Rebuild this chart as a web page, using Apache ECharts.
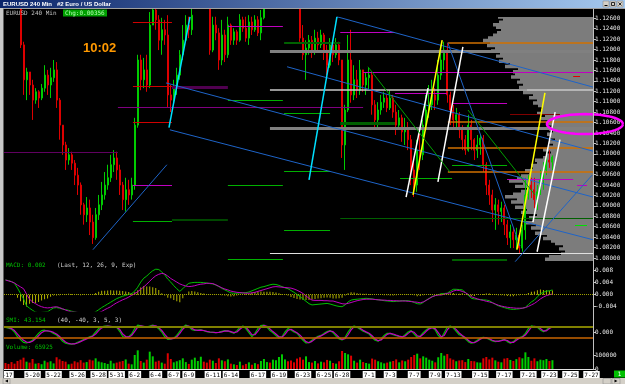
<!DOCTYPE html>
<html>
<head>
<meta charset="utf-8">
<script src="https://cdn.jsdelivr.net/npm/echarts@6.0.0/dist/echarts.min.js"></script>
<style>
html,body{margin:0;padding:0;background:#000;overflow:hidden;}
#chart{width:625px;height:384px;}
</style>
</head>
<body>
<div id="chart"></div>
<script>
// ---------------- DATA ----------------
const firstOpen = 1.1410;
const closes = [
1.1395,1.1370,1.1340,1.1318,1.1290, 1.1209,1.1142,1.1157,1.1132,1.1103,
1.1119,1.1107,1.1126,1.1151,1.1132, 1.1146,1.1161,1.1103,1.1055,1.1017,
1.0988,1.0998,1.0982,1.0959,1.0940, 1.0902,1.0883,1.0896,1.0869,1.0839,
1.0883,1.0902,1.0921,1.0940,1.0954, 1.0979,1.0992,1.0969,1.0940,1.0912,
1.0931,1.0921,1.0940,1.1055,1.1180, 1.1142,1.1161,1.1132,1.1247,1.1276,
1.1257,1.1218,1.1238,1.1228,1.1113, 1.1103,1.1126,1.1151,1.1190,1.1218,
1.1247,1.1238,1.1266,1.1300,1.1330, 1.1350,1.1320,1.1290,1.1199,1.1247,
1.1232,1.1180,1.1228,1.1190,1.1247, 1.1218,1.1234,1.1218,1.1257,1.1241,
1.1222,1.1253,1.1238,1.1257,1.1232, 1.1261,1.1300,1.1330,1.1290,1.1310,
1.1350,1.1380,1.1400,1.1420,1.1390, 1.1360,1.1330,1.1300,1.1222,1.1190,
1.1203,1.1218,1.1195,1.1222,1.1209, 1.1228,1.1199,1.1170,1.1209,1.1190,
1.1209,1.1180,1.1017,1.1084,1.1180, 1.1113,1.1142,1.1122,1.1161,1.1132,
1.1146,1.1151,1.1094,1.1065,1.1084, 1.1099,1.1107,1.1088,1.1107,1.1080,
1.1055,1.1069,1.1042,1.1050,1.1027, 1.0969,1.0940,1.1007,1.0998,1.1055,
1.1084,1.1094,1.1113,1.1103,1.1151, 1.1180,1.1199,1.1113,1.1084,1.1065,
1.1075,1.1046,1.1027,1.1007,1.1055, 1.1027,1.1007,1.1017,1.1030,1.0979,
1.0940,1.0921,1.0892,1.0902,1.0889, 1.0896,1.0864,1.0839,1.0850,1.0835,
1.0844,1.0819,1.0854,1.0921,1.0940, 1.0931,1.0912,1.0927,1.0950,1.0969,
1.0988,1.0984,1.09938];
const highs = [
1.1420,1.1400,1.1375,1.1350,1.1325, 1.1295,1.1215,1.1165,1.1157,1.1142,
1.1126,1.1122,1.1134,1.1170,1.1161, 1.1165,1.1180,1.1176,1.1107,1.1055,
1.1023,1.1011,1.1004,1.0988,1.0973, 1.0945,1.0906,1.0917,1.0912,1.0883,
1.0896,1.0921,1.0946,1.0965,1.0979, 1.0998,1.1007,1.1004,1.0979,1.0946,
1.0954,1.0950,1.0954,1.1069,1.1190, 1.1190,1.1184,1.1190,1.1272,1.1286,
1.1286,1.1266,1.1261,1.1257,1.1266, 1.1132,1.1142,1.1165,1.1199,1.1247,
1.1266,1.1263,1.1286,1.1325,1.1350, 1.1380,1.1365,1.1330,1.1295,1.1263,
1.1263,1.1241,1.1257,1.1238,1.1263, 1.1250,1.1241,1.1238,1.1268,1.1263,
1.1263,1.1266,1.1263,1.1266,1.1264, 1.1276,1.1320,1.1345,1.1340,1.1330,
1.1365,1.1395,1.1420,1.1436,1.1430, 1.1400,1.1370,1.1340,1.1305,1.1247,
1.1218,1.1228,1.1226,1.1238,1.1234, 1.1238,1.1232,1.1209,1.1222,1.1218,
1.1222,1.1215,1.1180,1.1094,1.1228, 1.1238,1.1170,1.1161,1.1180,1.1161,
1.1157,1.1165,1.1155,1.1103,1.1099, 1.1113,1.1119,1.1113,1.1122,1.1113,
1.1094,1.1084,1.1075,1.1069,1.1061, 1.1036,1.0988,1.1027,1.1046,1.1065,
1.1113,1.1132,1.1142,1.1126,1.1180, 1.1209,1.1215,1.1213,1.1119,1.1094,
1.1088,1.1080,1.1055,1.1036,1.1075, 1.1065,1.1030,1.1036,1.1036,1.1036,
1.0984,1.0950,1.0931,1.0915,1.0912, 1.0908,1.0902,1.0873,1.0864,1.0858,
1.0858,1.0848,1.0864,1.0954,1.0959, 1.0954,1.0954,1.0940,1.0969,1.0984,
1.1004,1.1007,1.0997];
const lows = [
1.1380,1.1360,1.1330,1.1305,1.1280, 1.1203,1.1113,1.1103,1.1113,1.1065,
1.1096,1.1088,1.1103,1.1119,1.1113, 1.1107,1.1138,1.1088,1.1027,1.0998,
1.0969,1.0979,1.0969,1.0940,1.0921, 1.0883,1.0864,1.0869,1.0844,1.0827,
1.0835,1.0873,1.0892,1.0912,1.0931, 1.0946,1.0965,1.0950,1.0921,1.0892,
1.0889,1.0902,1.0912,1.0931,1.1050, 1.1122,1.1126,1.1119,1.1126,1.1247,
1.1238,1.1199,1.1190,1.1209,1.1088, 1.1080,1.1094,1.1113,1.1142,1.1180,
1.1215,1.1222,1.1228,1.1264,1.1295, 1.1320,1.1305,1.1275,1.1190,1.1195,
1.1218,1.1161,1.1170,1.1176,1.1184, 1.1209,1.1209,1.1209,1.1215,1.1234,
1.1215,1.1209,1.1228,1.1234,1.1226, 1.1218,1.1258,1.1295,1.1275,1.1285,
1.1305,1.1340,1.1370,1.1390,1.1380, 1.1345,1.1315,1.1280,1.1215,1.1180,
1.1142,1.1190,1.1184,1.1190,1.1199, 1.1203,1.1180,1.1151,1.1165,1.1176,
1.1184,1.1170,1.0992,1.0969,1.1080, 1.1098,1.1103,1.1107,1.1113,1.1119,
1.1113,1.1122,1.1075,1.1046,1.1050, 1.1075,1.1088,1.1080,1.1084,1.1069,
1.1036,1.1046,1.1023,1.1017,1.1007, 1.0940,1.0917,1.0927,1.0969,1.0988,
1.1046,1.1069,1.1084,1.1084,1.1094, 1.1142,1.1161,1.1098,1.1055,1.1046,
1.1050,1.1030,1.1007,1.0998,1.1004, 1.1007,1.0988,1.0992,1.0998,1.0965,
1.0921,1.0902,1.0869,1.0854,1.0864, 1.0869,1.0844,1.0825,1.0819,1.0819,
1.0816,1.0808,1.0812,1.0835,1.0912, 1.0915,1.0896,1.0892,1.0921,1.0931,
1.0959,1.0973,1.0969];
const volumes = [
45000,38000,52000,40000,60000, 70000,85000,55000,48000,75000,
40000,44000,36000,62000,50000, 58000,42000,88000,72000,60000,
55000,35000,40000,58000,50000, 66000,48000,52000,70000,64000,
80000,56000,50000,45000,38000, 62000,42000,48000,55000,60000,
72000,40000,35000,105000,140000, 60000,48000,70000,130000,95000,
55000,62000,48000,40000,118000, 75000,50000,58000,66000,80000,
52000,38000,70000,85000,60000, 92000,55000,48000,70000,62000,
45000,80000,65000,58000,72000, 40000,35000,30000,55000,28000,
38000,50000,32000,44000,36000, 60000,75000,52000,48000,70000,
66000,90000,110000,72000,58000, 64000,50000,78000,88000,70000,
95000,52000,48000,60000,42000, 55000,50000,68000,62000,45000,
40000,58000,135000,120000,110000, 100000,62000,48000,70000,52000,
45000,40000,78000,70000,58000, 50000,42000,48000,55000,60000,
72000,50000,64000,58000,70000, 90000,105000,115000,80000,95000,
85000,70000,62000,50000,88000, 120000,100000,112000,80000,70000,
58000,64000,66000,52000,75000, 60000,58000,50000,48000,80000,
90000,72000,85000,65000,55000, 50000,78000,82000,68000,60000,
74000,88000,80000,125000,90000, 62000,80000,58000,70000,66000,
75000,60000,65925];
// MACD and signal in units of 0.0001
const macdE4 = [
49,47,44,38,22, 4,-14,-37,-45,-52, -58,-60,-59,-58,-57, -50,-44,-43,-45,-48,
-50,-52,-55,-57,-60, -62,-62,-62,-63,-62, -57,-50,-43,-37,-31, -25,-19,-13,-9,-5,
-2,1,4,12,25, 42,55,62,72,80, 85,84,76,66,52, 42,30,20,11,20,
30,38,40,41,41, 41,40,39,37,36, 32,27,21,16,11, 6,5,5,6,6,
7,9,13,17,21, 25,27,30,33,35, 34,31,27,23,20, 14,8,1,-6,-14,
-22,-30,-34,-33,-32, -31,-30,-29,-31,-34, -37,-39,-40,-34,-24, -18,-16,-15,-14,-13,
-12,-13,-14,-16,-17, -18,-20,-21,-22,-23, -22,-21,-20,-20,-20, -22,-26,-30,-31,-26,
-18,-12,-6,-3,0, 3,4,5,12,18, 18,17,16,8,-2, -12,-14,-15,-16,-17,
-18,-20,-26,-32,-37, -40,-43,-46,-48,-49, -48,-47,-45,-42,-33, -24,-18,-7,3,8,
12,13,16];
const signalE4 = [
49,46,43,39,32, 26,20,2,-15,-24, -30,-36,-40,-43,-44, -43,-41,-40,-43,-47,
-51,-55,-57,-58,-59, -60,-61,-62,-63,-64, -63,-60,-56,-50,-45, -40,-33,-27,-22,-17,
-13,-8,-2,4,10, 18,26,35,45,55, 63,68,71,69,62, 54,48,42,36,32,
29,27,28,30,33, 35,36,38,38,37, 33,28,23,19,16, 12,10,8,7,6,
5,5,6,8,11, 14,17,20,23,26, 27,26,25,24,23, 22,19,15,10,4,
-4,-12,-18,-19,-19, -19,-20,-20,-21,-21, -24,-27,-30,-31,-29, -26,-23,-20,-18,-16,
-15,-15,-15,-16,-17, -18,-18,-19,-19,-20, -20,-21,-21,-21,-22, -23,-24,-25,-27,-24,
-19,-13,-7,-3,-1, -1,2,4,7,12, 15,14,11,7,1, -7,-10,-14,-17,-19,
-22,-24,-27,-31,-35, -38,-40,-42,-43,-44, -45,-45,-45,-43,-39, -34,-29,-22,-14,-8,
-3,0,2];
const smiLine = [
39,33,26,5,-30, -50,-70,-75,-68,-55, -30,-5,15,18,12, 7,-5,-17,-40,-62,
-77,-82,-84,-80,-70, -60,-50,-40,-30,-22, 5,30,42,48,48, 45,42,39,10,-28,
-33,-30,-10,30,55, 50,42,40,48,56, 45,28,5,-30,-48, -45,-40,-20,10,40,
55,45,22,16,18, 20,14,7,4,2, 0,3,10,15,12, 3,-4,15,38,49,
30,0,-28,-5,30, 52,55,40,15,0, -20,-38,-30,5,30, 20,5,-4,-30,-55,
-75,-72,-55,-38,-27, -20,-5,8,15,0, -25,-45,-53,-35,5, 35,49,40,25,10,
2,-10,-35,-55,-62, -45,-20,-4,-5,-15, -22,-28,-33,-15,5, 15,-10,-33,-25,0,
20,35,39,20,-20, -41,0,40,49,35, 10,-15,-24,-45,-65, -77,-70,-55,-40,-33,
-38,-50,-60,-65,-62, -55,-48,-65,-77,-65, -45,-35,-29,-5,30, 49,45,39,20,7,
20,39,43.154];
const smiSignal = [
40,37,30,15,-10, -35,-55,-68,-70,-62, -45,-22,0,12,14, 10,2,-10,-28,-50,
-68,-78,-82,-81,-75, -65,-55,-45,-35,-26, -10,15,35,44,47, 46,43,40,25,-10,
-28,-31,-20,10,40, 50,46,41,44,50, 50,37,17,-12,-38, -45,-42,-30,-5,25,
47,48,33,20,17, 18,16,10,5,3, 1,2,6,12,13, 8,0,5,25,43,
40,15,-15,-15,12, 40,52,47,28,8, -10,-29,-33,-12,17, 25,12,0,-18,-42,
-65,-73,-63,-46,-32, -23,-12,2,12,8, -12,-35,-49,-44,-15, 20,42,44,32,17,
6,-4,-22,-45,-58, -53,-32,-12,-5,-10, -18,-25,-30,-24,-5, 10,3,-22,-29,-12,
10,28,37,30,0, -30,-20,20,45,42, 22,-2,-20,-35,-55, -71,-73,-62,-48,-37,
-36,-44,-55,-62,-63, -58,-52,-57,-71,-71, -55,-40,-32,-17,12, 40,47,42,30,13,
13,30,41];
// volume-at-price profile, bins of 0.0005 starting at 1.0795
const profileStart = 1.0795, profileStep = 0.0005;
const profileVol = [
48,44,32,28,34,30,38,42,50,46, 58,52,62,57,68,60,64,56,72,66,
78,70,82,76,88,80,72,66,78,70, 84,76,72,64,68,60,62,56,58,50,
46,42,50,44,40,44,38,42,46,40, 44,40,47,43,52,48,56,52,50,55,
60,56,64,60,70,66,74,70,76,73, 82,78,80,75,88,83,94,90,97,93,
102,98,106,103,110,105,100,96,92,97, 100,94,90,95];
const priceTicks = [1.080,1.082,1.084,1.086,1.088,1.090,1.092,1.094,1.096,1.098,1.100,1.102,1.104,1.106,1.108,1.110,1.112,1.114,1.116,1.118,1.120,1.122,1.124,1.126];
const macdTicks = [-0.004,0,0.004,0.008];
const smiTicks = [0];
const volTicks = [0,100000];
const xTickIdx = [0,9,16,24,31,37,43,50,56,61,69,75,84,91,99,106,112,121,128,136,143,149,158,166,174,181,188,195];
const xTickText = ['5-17','5-20','5-22','5-26','5-28','5-31','6-2','6-4','6-7','6-9','6-11','6-14','6-17','6-19','6-23','6-25','6-28','7-1','7-3','7-7','7-9','7-13','7-15','7-17','7-21','7-23','7-25','7-27'];
// horizontal drawn levels: [fromBar, toBar, price, color, width]
const hLevels = [
[42.4,55.4,1.1252,'#d00000',1],[74.0,92.3,1.1245,'#c000c0',1],[92.7,111.4,1.1213,'#006000',2],
[88.0,195.5,1.1196,'#808080',3],[42.4,55.4,1.1130,'#d00000',1],[55.4,74.0,1.1127,'#500050',3],
[88.0,195.5,1.1122,'#c8c8c8',1.5],[74.0,92.3,1.1103,'#00b000',1],[37.4,119.0,1.1089,'#800080',1],
[92.7,108.0,1.1078,'#00b000',1],[42.4,55.4,1.1061,'#d00000',1],[88.0,195.5,1.1049,'#808080',3],
[-0.5,37.4,1.1003,'#600060',1],[42.4,55.4,1.0940,'#c000c0',1],[74.0,92.3,1.0940,'#00b000',1],
[92.7,108.0,1.0967,'#00b000',1],[42.4,55.4,1.0871,'#00b000',1],[55.4,74.0,1.0874,'#006000',1.5],
[92.7,108.0,1.0853,'#00b000',1],[88.0,195.5,1.0809,'#e0e0e0',1],[74.0,92.3,1.0797,'#00b000',1],
[111.4,129.6,1.1233,'#c000c0',1],[147.2,195.5,1.1214,'#d07000',1.5],[119.0,195.5,1.1157,'#c000c0',1],
[129.6,146.9,1.1117,'#c000c0',1],[148.6,166.9,1.1097,'#c000c0',1],[111.4,129.6,1.1059,'#006000',3],
[147.2,195.5,1.1061,'#d07000',1.5],[147.2,195.5,1.1012,'#d07000',1.5],[148.6,166.9,1.0978,'#00b000',1],
[147.2,195.5,1.0965,'#d07000',1.5],[131.3,148.6,1.0953,'#00b000',1],[166.9,188.9,1.0951,'#c000c0',1],
[111.4,195.5,1.0876,'#006000',1],[148.6,166.9,1.0797,'#006000',2],[167.9,184.5,1.1075,'#800000',1],
[188.9,191.2,1.1149,'#e00000',1],[190.2,193.5,1.0940,'#c000c0',1],[189.5,193.5,1.0862,'#00e000',1]];
// trend lines: [bar1, price1, bar2, price2, color, width]
const trendLines = [
[110.3,1.1263,195.5,1.1128,'#1e64c8',1],[53.4,1.1136,195.5,1.0917,'#1e64c8',1],
[54.7,1.1046,195.5,1.0835,'#1e64c8',1],[93.7,1.1167,195.5,1.1005,'#1e64c8',1],
[147.2,1.1213,171.2,1.0823,'#1e64c8',1],[169.6,1.0793,195.2,1.0959,'#1e64c8',1],
[29.1,1.0816,53.7,1.0979,'#1e64c8',1],[54.4,1.1050,61.4,1.1263,'#00e0ff',1.5],
[101.0,1.0950,110.3,1.1263,'#00e0ff',1.5],[135.6,1.0921,145.3,1.1218,'#ffff00',1.5],
[170.2,1.0816,179.5,1.1117,'#ffff00',1.5],[133.3,1.0917,140.6,1.1126,'#ffffff',1.5],
[143.9,1.0946,152.2,1.1205,'#ffffff',1.5],[175.5,1.0869,182.9,1.1080,'#ffffff',1.5],
[176.9,1.0812,184.5,1.1027,'#ffffff',1.5],[120.6,1.1167,147.9,1.0965,'#00a000',1],
[153.9,1.1084,176.2,1.0921,'#00a000',1]];
const fibLabels = [
[1.1214,'(100%)','#ff8000'],[1.1196,'(61.8%)','#e0e0e0'],[1.1122,'(50%)','#e0e0e0'],
[1.1061,'(61.8%)','#ff8000'],[1.1049,'(38.2%)','#e0e0e0'],[1.1012,'(50%)','#ff8000'],
[1.0965,'(38.2%)','#ff8000'],[1.0809,'(0%)','#e0e0e0']];
const ovalCenter = [192.8, 1.1057];

// ---------------- BUILD ----------------
const N = 196;
const cats = Array.from({length: N}, (_, i) => String(i));
const opens = closes.map((c, i) => i === 0 ? firstOpen : closes[i - 1]);
const candles = closes.map((c, i) => [opens[i], c, lows[i], highs[i]]);
const UP = '#00cc00', DN = '#dd0000';
const volData = volumes.map((v, i) => ({value: v, itemStyle: {color: closes[i] >= opens[i] ? UP : DN}}));
const macd = macdE4.map(v => v / 10000);
const sig = signalE4.map(v => v / 10000);
const hist = macd.map((v, i) => +(v - sig[i]).toFixed(5));
const profileData = profileVol.map((v, k) => [profileStart + k * profileStep, profileStart + (k + 1) * profileStep, v]);
const tickMap = {};
xTickIdx.forEach((ix, k) => { tickMap[ix] = xTickText[k]; });
const MONO = 'DejaVu Sans Mono';
const PMIN = 1.07904, PMAX = 1.12625;
const L = 4, W = 589;

const segData = hLevels.map(h => ({coords: [[h[0], h[2]], [h[1], h[2]]], lineStyle: {color: h[3], width: h[4]}}))
  .concat(trendLines.map(t => ({coords: [[t[0], t[1]], [t[2], t[3]]], lineStyle: {color: t[4], width: t[5]}})));

function hiddenCat(g) {
  return {type: 'category', gridIndex: g, data: cats, boundaryGap: true, show: false};
}
function rightAxis(g, min, max, ticks, fmt) {
  return {
    type: 'value', gridIndex: g, position: 'right', min: min, max: max,
    axisLine: {show: true, lineStyle: {color: '#c0c0c0', width: 1}},
    axisTick: {show: true, customValues: ticks, length: 3, lineStyle: {color: '#c0c0c0'}},
    axisLabel: {show: true, customValues: ticks, formatter: fmt, color: '#e8e8e8', fontSize: 6, fontFamily: MONO, margin: 2},
    splitLine: {show: false}
  };
}

const chart = echarts.init(document.getElementById('chart'), null, {renderer: 'canvas'});
const option = {
  backgroundColor: '#000',
  animation: false,
  grid: [
    {left: L, top: 17, width: W, height: 246, outerBoundsMode: 'none'},
    {left: L, top: 265, width: W, height: 46, outerBoundsMode: 'none'},
    {left: L, top: 313, width: W, height: 34, outerBoundsMode: 'none'},
    {left: L, top: 349, width: W, height: 20, outerBoundsMode: 'none'},
    {left: L, top: 17, width: W, height: 246, outerBoundsMode: 'none'},
    {left: L, top: 17, width: W, height: 246, outerBoundsMode: 'none'}
  ],
  xAxis: [
    hiddenCat(0), hiddenCat(1), hiddenCat(2),
    {type: 'category', gridIndex: 3, data: cats, boundaryGap: true,
     axisLine: {show: true, lineStyle: {color: '#e0e0e0'}}, axisTick: {show: false},
     axisLabel: {show: true, interval: (i) => tickMap[i] !== undefined, formatter: (v) => tickMap[Number(v)] || '',
       color: '#000', backgroundColor: '#fff', padding: [1, 1, 0, 1], fontSize: 6, fontFamily: MONO, lineHeight: 6, margin: 2, hideOverlap: false}},
    {type: 'value', gridIndex: 4, min: -0.5, max: N - 0.5, show: false},
    {type: 'value', gridIndex: 5, min: 0, max: W, inverse: true, show: false}
  ],
  yAxis: [
    rightAxis(0, PMIN, PMAX, priceTicks, v => v.toFixed(5)),
    rightAxis(1, -0.00543, 0.0099, macdTicks, v => v.toFixed(3)),
    rightAxis(2, -104, 143, smiTicks, v => v.toFixed(3)),
    rightAxis(3, 0, 150000, volTicks, v => String(v)),
    {type: 'value', gridIndex: 4, min: PMIN, max: PMAX, show: false},
    {type: 'value', gridIndex: 5, min: PMIN, max: PMAX, show: false}
  ],
  series: [
    {type: 'custom', name: 'profile', xAxisIndex: 5, yAxisIndex: 5, data: profileData, clip: true, z: 1, silent: true,
     renderItem: function (params, api) {
       const a = api.coord([api.value(2), api.value(1)]);
       const b = api.coord([0, api.value(0)]);
       return {type: 'rect', shape: {x: a[0], y: a[1] - 0.4, width: b[0] - a[0], height: b[1] - a[1] + 0.8}, style: {fill: '#7c7c7c'}};
     }},
    {type: 'candlestick', name: 'EURUSD', xAxisIndex: 0, yAxisIndex: 0, data: candles, barWidth: 1.5, clip: true, z: 2,
     itemStyle: {color: UP, color0: DN, borderColor: UP, borderColor0: DN, borderWidth: 1}},
    {type: 'lines', coordinateSystem: 'cartesian2d', xAxisIndex: 4, yAxisIndex: 4, polyline: false, data: segData,
     lineStyle: {opacity: 1, width: 1}, z: 4, silent: true, clip: true},
    {type: 'scatter', xAxisIndex: 4, yAxisIndex: 4, symbolSize: 1, itemStyle: {opacity: 0}, z: 6, silent: true, clip: false,
     data: fibLabels.map(f => ({value: [N - 1.5, f[0]], label: {formatter: f[1], color: f[2]}})),
     label: {show: true, position: 'left', distance: 0, backgroundColor: '#000', borderColor: '#5a5a5a', borderWidth: 1,
       padding: [0, 1, 0, 1], fontSize: 6, fontFamily: MONO, lineHeight: 6}},
    {type: 'scatter', xAxisIndex: 4, yAxisIndex: 4, symbolSize: 1, itemStyle: {opacity: 0}, z: 7, silent: true, clip: false,
     data: [[N - 0.5, closes[closes.length - 1]]],
     label: {show: true, position: 'right', distance: 1, formatter: (p) => p.value[1].toFixed(5), color: '#000',
       backgroundColor: '#fff', padding: [1, 2, 0, 2], fontSize: 6, fontFamily: MONO, lineHeight: 6}},
    {type: 'custom', name: 'oval', xAxisIndex: 4, yAxisIndex: 4, data: [ovalCenter], clip: false, z: 8, silent: true,
     renderItem: function (params, api) {
       const c = api.coord([api.value(0), api.value(1)]);
       const pts = [];
       for (let k = 0; k <= 48; k++) {
         const t = k / 48 * Math.PI * 2;
         pts.push([c[0] + 38 * Math.cos(t), c[1] + 10 * Math.sin(t)]);
       }
       return {type: 'polyline', shape: {points: pts}, style: {stroke: '#ff00ff', lineWidth: 2.5, fill: null}};
     }},
    {type: 'bar', name: 'hist', xAxisIndex: 1, yAxisIndex: 1, data: hist, barWidth: 1, itemStyle: {color: '#b4b400'}, z: 2,
     markLine: {silent: true, symbol: 'none', label: {show: false}, data: [{yAxis: 0}], lineStyle: {color: '#a0a000', type: 'dotted', width: 1}}},
    {type: 'line', name: 'MACD', xAxisIndex: 1, yAxisIndex: 1, data: macd, showSymbol: false, lineStyle: {color: '#00c000', width: 1}, z: 3},
    {type: 'line', name: 'Signal', xAxisIndex: 1, yAxisIndex: 1, data: sig, showSymbol: false, lineStyle: {color: '#c000c0', width: 1}, z: 3},
    {type: 'line', name: 'SMI', xAxisIndex: 2, yAxisIndex: 2, data: smiLine, showSymbol: false, lineStyle: {color: '#00c000', width: 1.2}, z: 3,
     markLine: {silent: true, symbol: 'none', label: {show: false},
       data: [{yAxis: 40, lineStyle: {color: '#808000', width: 2, type: 'solid'}}, {yAxis: -40, lineStyle: {color: '#c86400', width: 1.5, type: 'solid'}}]}},
    {type: 'line', name: 'SMI signal', xAxisIndex: 2, yAxisIndex: 2, data: smiSignal, showSymbol: false, lineStyle: {color: '#c000c0', width: 1.2}, z: 4},
    {type: 'bar', name: 'Volume', xAxisIndex: 3, yAxisIndex: 3, data: volData, barWidth: 2, z: 2}
  ],
  graphic: [
    {type: 'rect', z: 100, shape: {x: 0, y: 0, width: 625, height: 8},
     style: {fill: new echarts.graphic.LinearGradient(0, 0, 1, 0, [{offset: 0, color: '#0a246a'}, {offset: 1, color: '#a6caf0'}])}},
    {type: 'text', z: 101, x: 3, y: 4, style: {text: 'EURUSD 240 Min   #2 Euro / US Dollar', fill: '#fff', font: 'bold 6px "Liberation Sans"', verticalAlign: 'middle'}},
    {type: 'rect', z: 101, shape: {x: 603, y: 1, width: 6, height: 6}, style: {fill: '#d4d0c8', stroke: '#808080', lineWidth: 0.5}},
    {type: 'rect', z: 101, shape: {x: 610, y: 1, width: 6, height: 6}, style: {fill: '#d4d0c8', stroke: '#808080', lineWidth: 0.5}},
    {type: 'rect', z: 101, shape: {x: 617, y: 1, width: 6, height: 6}, style: {fill: '#d4d0c8', stroke: '#808080', lineWidth: 0.5}},
    {type: 'line', z: 102, shape: {x1: 604.5, y1: 5.5, x2: 607.5, y2: 5.5}, style: {stroke: '#000', lineWidth: 1}},
    {type: 'rect', z: 102, shape: {x: 611.5, y: 2.5, width: 3, height: 3}, style: {fill: null, stroke: '#000', lineWidth: 0.8}},
    {type: 'line', z: 102, shape: {x1: 618.5, y1: 2.5, x2: 621.5, y2: 5.5}, style: {stroke: '#000', lineWidth: 0.8}},
    {type: 'line', z: 102, shape: {x1: 621.5, y1: 2.5, x2: 618.5, y2: 5.5}, style: {stroke: '#000', lineWidth: 0.8}},
    {type: 'rect', z: 100, shape: {x: 0, y: 8, width: 625, height: 1}, style: {fill: '#a0a0a0'}},
    {type: 'rect', z: 100, shape: {x: 0, y: 8, width: 3, height: 376}, style: {fill: '#c8c8c8'}},
    {type: 'rect', z: 100, shape: {x: 3, y: 9, width: 1, height: 369}, style: {fill: '#606060'}},
    {type: 'line', z: 50, shape: {x1: 593.5, y1: 9, x2: 593.5, y2: 369}, style: {stroke: '#c0c0c0', lineWidth: 1}},
    {type: 'rect', z: 100, shape: {x: 0, y: 378, width: 625, height: 6}, style: {fill: '#d4d0c8'}},
    {type: 'rect', z: 101, shape: {x: 3, y: 378.5, width: 7, height: 5.5}, style: {fill: '#d4d0c8', stroke: '#808080', lineWidth: 0.5}},
    {type: 'polygon', z: 102, shape: {points: [[5, 381], [8, 379.5], [8, 382.5]]}, style: {fill: '#000'}},
    {type: 'rect', z: 101, shape: {x: 603, y: 378.5, width: 8, height: 5.5}, style: {fill: '#d4d0c8', stroke: '#808080', lineWidth: 0.5}},
    {type: 'rect', z: 101, shape: {x: 612, y: 378.5, width: 8, height: 5.5}, style: {fill: '#d4d0c8', stroke: '#808080', lineWidth: 0.5}},
    {type: 'polygon', z: 102, shape: {points: [[617.5, 381], [614.5, 379.5], [614.5, 382.5]]}, style: {fill: '#000'}},
    {type: 'rect', z: 101, shape: {x: 614, y: 370.5, width: 11, height: 7}, style: {fill: '#00c000'}},
    {type: 'text', z: 102, x: 619.5, y: 374, style: {text: '1', fill: '#fff', font: '6px "DejaVu Sans Mono"', align: 'center', verticalAlign: 'middle'}},
    {type: 'text', z: 101, x: 6, y: 13, style: {text: 'EURUSD 240 Min', fill: '#c0c0c0', font: '6px "DejaVu Sans Mono"', verticalAlign: 'middle'}},
    {type: 'rect', z: 101, shape: {x: 63, y: 9.5, width: 44, height: 7}, style: {fill: '#00a000'}},
    {type: 'text', z: 102, x: 65, y: 13, style: {text: 'Chg:0.00356', fill: '#b0ffb0', font: '6px "DejaVu Sans Mono"', verticalAlign: 'middle'}},
    {type: 'text', z: 101, x: 83, y: 48, style: {text: '10:02', fill: '#ff9900', font: 'bold 13px "Liberation Sans"', verticalAlign: 'middle'}},
    {type: 'text', z: 101, x: 6, y: 265.5, style: {text: 'MACD: ' + macd[macd.length - 1].toFixed(3), fill: '#00c000', font: '6px "DejaVu Sans Mono"', verticalAlign: 'middle'}},
    {type: 'text', z: 101, x: 57, y: 265.5, style: {text: '(Last, 12, 26, 9, Exp)', fill: '#d0d0d0', font: '6px "DejaVu Sans Mono"', verticalAlign: 'middle'}},
    {type: 'text', z: 101, x: 6, y: 320.5, style: {text: 'SMI: ' + smiLine[smiLine.length - 1].toFixed(3), fill: '#00c000', font: '6px "DejaVu Sans Mono"', verticalAlign: 'middle'}},
    {type: 'text', z: 101, x: 57, y: 320.5, style: {text: '(40, -40, 3, 5, 3)', fill: '#d0d0d0', font: '6px "DejaVu Sans Mono"', verticalAlign: 'middle'}},
    {type: 'text', z: 101, x: 6, y: 347.5, style: {text: 'Volume: ' + volumes[volumes.length - 1], fill: '#00c000', font: '6px "DejaVu Sans Mono"', verticalAlign: 'middle'}}
  ]
};
chart.setOption(option);
</script>
</body>
</html>
